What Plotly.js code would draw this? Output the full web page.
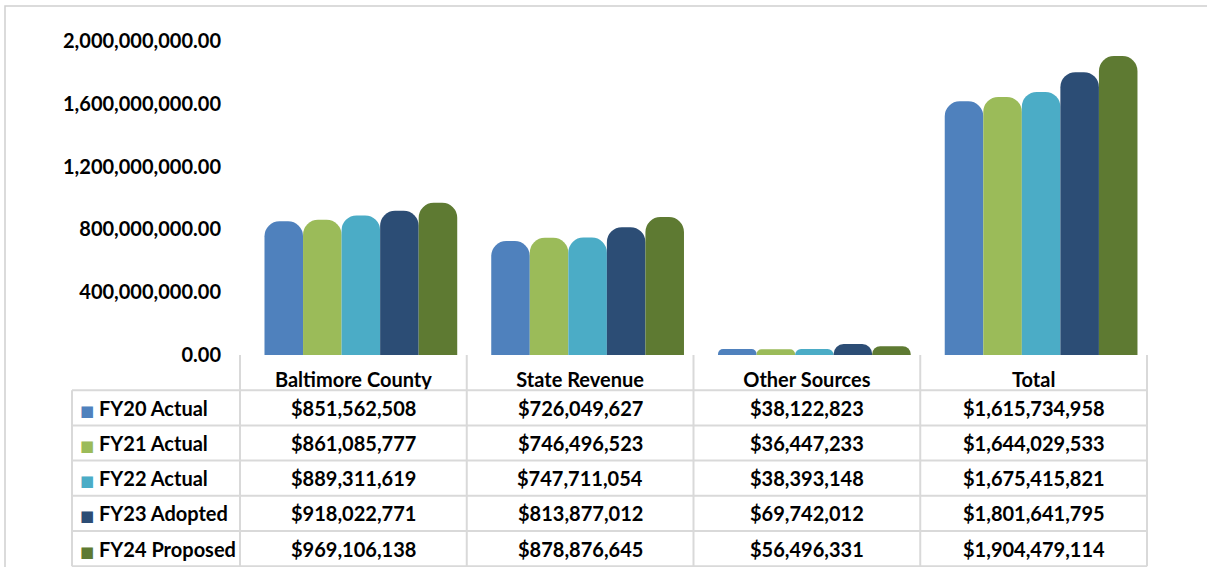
<!DOCTYPE html>
<html>
<head>
<meta charset="utf-8">
<script src="https://cdn.plot.ly/plotly-3.0.1.min.js"></script>
<style>
  html, body { margin: 0; padding: 0; background: #fff; }
  #chart { width: 1207px; height: 567px; }
</style>
</head>
<body>
<div id="chart"></div>
<script>
// ---- data ----
const categories = ['Baltimore County', 'State Revenue', 'Other Sources', 'Total'];
const seriesNames = ['FY20 Actual', 'FY21 Actual', 'FY22 Actual', 'FY23 Adopted', 'FY24 Proposed'];
const fy20 = [851562508, 726049627, 38122823, 1615734958];
const fy21 = [861085777, 746496523, 36447233, 1644029533];
const fy22 = [889311619, 747711054, 38393148, 1675415821];
const fy23 = [918022771, 813877012, 69742012, 1801641795];
const fy24 = [969106138, 878876645, 56496331, 1904479114];
const yTickVals = [0, 400000000, 800000000, 1200000000, 1600000000, 2000000000];

const seriesValues = [fy20, fy21, fy22, fy23, fy24];
const colors = ['#4f81bd', '#9bbb59', '#4bacc6', '#2c4d75', '#5e7a32'];

// ---- geometry (pixels) ----
const W = 1207, H = 567;
const plotL = 240, plotR = 1147, plotT = 41, plotB = 355;
const tableL = 72, rowH = 35.2;
const pw = plotR - plotL, ph = plotB - plotT;
const px = p => (p - plotL) / pw;        // pixel x -> paper x
const py = p => (plotB - p) / ph;        // pixel y -> paper y

const FONT = 'Lato, "Open Sans", sans-serif';
const barW = 0.17;
const shift = 0.033;

const traces = seriesValues.map((vals, i) => ({
  type: 'bar',
  name: seriesNames[i],
  x: categories,
  y: vals,
  width: barW,
  offset: -barW * 2.5 + i * barW + shift,
  marker: { color: colors[i], line: { width: 0 }, cornerradius: 15 },
  hoverinfo: 'x+y+name'
}));

const shapes = [];
const lineStyle = { color: '#d9d9d9', width: 2 };
// outer chart border
shapes.push({ type: 'rect', xref: 'paper', yref: 'paper',
  x0: px(5), x1: px(W + 10), y0: py(H + 10), y1: py(6),
  line: { color: '#d0d0d0', width: 1.5 }, fillcolor: 'rgba(0,0,0,0)' });
// horizontal table lines
for (let r = 1; r <= 6; r++) {
  const yy = plotB + r * rowH;
  shapes.push({ type: 'line', xref: 'paper', yref: 'paper',
    x0: px(tableL), x1: 1, y0: py(yy), y1: py(yy), line: lineStyle });
}
// vertical table lines
shapes.push({ type: 'line', xref: 'paper', yref: 'paper',
  x0: px(tableL), x1: px(tableL), y0: py(plotB + rowH), y1: py(plotB + 6 * rowH), line: lineStyle });
for (let c = 0; c <= categories.length; c++) {
  const xx = c / categories.length;
  shapes.push({ type: 'line', xref: 'paper', yref: 'paper',
    x0: xx, x1: xx, y0: py(plotB), y1: py(plotB + 6 * rowH), line: lineStyle });
}

const fmt = v => '$' + v.toLocaleString('en-US');
const annotations = [];
seriesValues.forEach((vals, i) => {
  const yc = py(plotB + (i + 1.5) * rowH);
  annotations.push({
    xref: 'paper', yref: 'paper', x: px(78), y: yc, xanchor: 'left', yanchor: 'middle',
    text: '<span style="color:' + colors[i] + ';font-family:DejaVu Sans;font-size:15px">■</span> ' + seriesNames[i],
    showarrow: false, font: { family: FONT, size: 20, color: '#000', weight: 'bold' }
  });
  vals.forEach((v, j) => {
    annotations.push({
      xref: 'x', yref: 'paper', x: categories[j], y: yc, xanchor: 'center', yanchor: 'middle',
      text: fmt(v), showarrow: false,
      font: { family: FONT, size: 20, color: '#000', weight: 'bold' }
    });
  });
});

const layout = {
  width: W, height: H,
  margin: { l: plotL, r: W - plotR, t: plotT, b: H - plotB },
  paper_bgcolor: '#fff', plot_bgcolor: '#fff',
  showlegend: false,
  barmode: 'group',
  xaxis: {
    type: 'category', range: [-0.5, 3.5], showgrid: false, zeroline: false, showline: false,
    ticks: '', tickfont: { family: FONT, size: 20, color: '#000', weight: 'bold' },
    ticklabelstandoff: 11, fixedrange: true
  },
  yaxis: {
    range: [0, 2000000000], tickvals: yTickVals, tickformat: ',.2f',
    showgrid: false, zeroline: false, showline: false, ticks: '',
    tickfont: { family: FONT, size: 20, color: '#000', weight: 'bold' },
    ticklabelstandoff: 18, fixedrange: true
  },
  shapes: shapes,
  annotations: annotations
};

Plotly.newPlot('chart', traces, layout, { displayModeBar: false, staticPlot: true });
</script>
</body>
</html>
